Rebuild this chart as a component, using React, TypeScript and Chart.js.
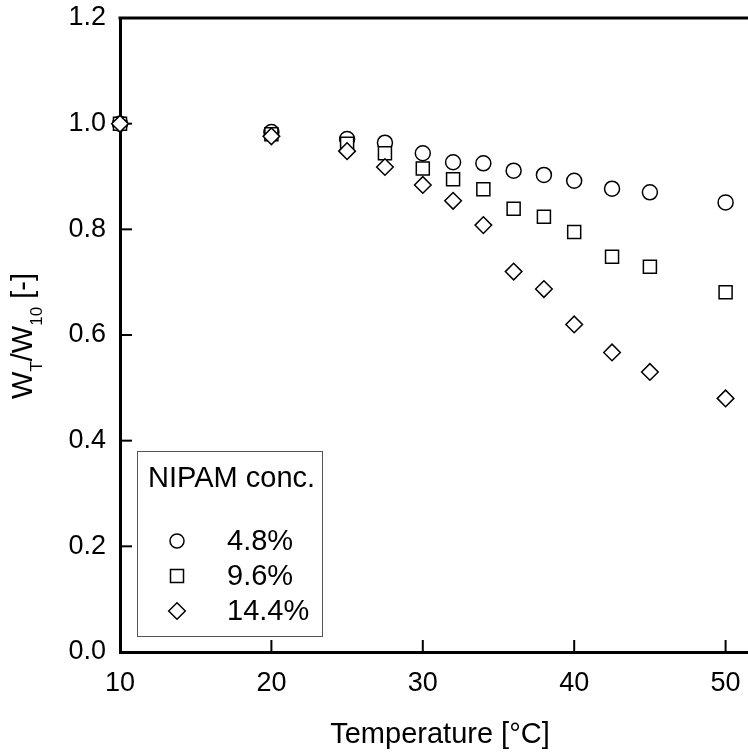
import React, { useEffect, useRef } from "react";
import { Chart, registerables } from "chart.js";

Chart.register(...registerables);

const temperatures = [10, 20, 25, 27.5, 30, 32, 34, 36, 38, 40, 42.5, 45, 50];
const conc48 = [1.0, 0.984, 0.971, 0.964, 0.944, 0.927, 0.925, 0.911, 0.903, 0.892, 0.877, 0.870, 0.851];
const conc96 = [1.0, 0.98, 0.962, 0.944, 0.915, 0.895, 0.876, 0.839, 0.824, 0.795, 0.748, 0.729, 0.681];
const conc144 = [1.0, 0.976, 0.948, 0.918, 0.884, 0.854, 0.808, 0.720, 0.687, 0.620, 0.567, 0.530, 0.480];
const seriesLabels = ["4.8%", "9.6%", "14.4%"];
const legendTitle = "NIPAM conc.";
const xTitle = "Temperature [°C]";
const yTickValues = [0, 0.2, 0.4, 0.6, 0.8, 1.0, 1.2];
const xTickValues = [10, 20, 30, 40, 50];

const FONT = "'Liberation Sans', Arial, Helvetica, sans-serif";

function drawMarker(ctx: CanvasRenderingContext2D, style: string, x: number, y: number) {
  ctx.beginPath();
  if (style === "circle") {
    ctx.arc(x, y, 7, 0, Math.PI * 2);
  } else if (style === "rect") {
    ctx.rect(x - 6.5, y - 6.5, 13, 13);
  } else {
    ctx.moveTo(x, y - 8.3);
    ctx.lineTo(x + 8.3, y);
    ctx.lineTo(x, y + 8.3);
    ctx.lineTo(x - 8.3, y);
    ctx.closePath();
  }
  ctx.fillStyle = "#fff";
  ctx.fill();
  ctx.strokeStyle = "#000";
  ctx.lineWidth = 1.5;
  ctx.stroke();
}

const zeroPad = (scale: any) => {
  scale.paddingTop = 0;
  scale.paddingBottom = 0;
  scale.paddingLeft = 0;
  scale.paddingRight = 0;
};

const customPlugin = {
  id: "customDecor",
  beforeDatasetsDraw(chart: any) {
    const ctx = chart.ctx as CanvasRenderingContext2D;
    const { left, right, top, bottom } = chart.chartArea;
    const xs = chart.scales.x;
    const ys = chart.scales.y;
    ctx.save();
    ctx.strokeStyle = "#000";
    ctx.lineWidth = 3;
    ctx.beginPath();
    ctx.moveTo(left - 1.5, top);
    ctx.lineTo(right, top);
    ctx.stroke();
    ctx.lineWidth = 2;
    xs.ticks.forEach((t: any) => {
      const px = xs.getPixelForValue(t.value);
      ctx.beginPath();
      ctx.moveTo(px, bottom);
      ctx.lineTo(px, bottom - 12);
      ctx.stroke();
    });
    ys.ticks.forEach((t: any) => {
      if (t.value >= 1.2) return;
      const py = ys.getPixelForValue(t.value);
      ctx.beginPath();
      ctx.moveTo(left, py);
      ctx.lineTo(left + 12, py);
      ctx.stroke();
    });
    ctx.restore();
  },
  afterDraw(chart: any) {
    const ctx = chart.ctx as CanvasRenderingContext2D;
    ctx.save();
    ctx.fillStyle = "#000";
    ctx.font = `29px ${FONT}`;
    ctx.textAlign = "center";
    ctx.textBaseline = "alphabetic";
    ctx.fillText(xTitle, 440, 743);

    const parts: [string, boolean][] = [
      ["W", false],
      ["T", true],
      ["/W", false],
      ["10", true],
      [" [-]", false],
    ];
    const mainFont = `29px ${FONT}`;
    const subFont = `17px ${FONT}`;
    let total = 0;
    parts.forEach(([s, sub]) => {
      ctx.font = sub ? subFont : mainFont;
      total += ctx.measureText(s).width;
    });
    ctx.translate(32, 336);
    ctx.rotate(-Math.PI / 2);
    ctx.textAlign = "left";
    let cx = -total / 2;
    parts.forEach(([s, sub]) => {
      ctx.font = sub ? subFont : mainFont;
      ctx.fillText(s, cx, sub ? 10 : 0);
      cx += ctx.measureText(s).width;
    });
    ctx.setTransform(1, 0, 0, 1, 0, 0);

    ctx.fillStyle = "#fff";
    ctx.fillRect(137.5, 451.5, 185, 185);
    ctx.strokeStyle = "#555";
    ctx.lineWidth = 1;
    ctx.strokeRect(137.5, 451.5, 185, 185);
    ctx.fillStyle = "#000";
    ctx.font = `29px ${FONT}`;
    ctx.textAlign = "left";
    ctx.textBaseline = "middle";
    ctx.fillText(legendTitle, 148, 479);
    const styles = ["circle", "rect", "rectRot"];
    const ly = [541, 576, 611];
    chart.data.datasets.forEach((ds: any, i: number) => {
      drawMarker(ctx, styles[i], 177, ly[i]);
      ctx.fillStyle = "#000";
      ctx.font = `29px ${FONT}`;
      ctx.textBaseline = "middle";
      ctx.fillText(ds.label, 227, ly[i] + 1);
    });
    ctx.restore();
  },
};

export default function App() {
  const canvasRef = useRef<HTMLCanvasElement | null>(null);

  useEffect(() => {
    if (!canvasRef.current) return;
    const mk = (vals: number[]) => temperatures.map((t, i) => ({ x: t, y: vals[i] }));
    const common = {
      showLine: false,
      borderColor: "#000",
      backgroundColor: "#fff",
      borderWidth: 1.5,
      clip: false as any,
    };
    const chart = new Chart(canvasRef.current, {
      type: "scatter",
      data: {
        datasets: [
          { ...common, label: seriesLabels[0], data: mk(conc48), pointStyle: "circle", pointRadius: 7.5, order: 2 },
          { ...common, label: seriesLabels[1], data: mk(conc96), pointStyle: "rect", pointRadius: 9.2, order: 1 },
          { ...common, label: seriesLabels[2], data: mk(conc144), pointStyle: "rectRot", pointRadius: 8.3, order: 0 },
        ],
      },
      options: {
        animation: false,
        responsive: false,
        devicePixelRatio: 1,
        layout: { padding: { top: 18, right: 0, left: 0, bottom: 0 } },
        plugins: { legend: { display: false }, tooltip: { enabled: false } },
        scales: {
          x: {
            type: "linear",
            min: 10,
            max: 51.5,
            afterBuildTicks: (scale: any) => {
              scale.ticks = xTickValues.map((v) => ({ value: v }));
            },
            ticks: {
              includeBounds: false,
              color: "#000",
              font: { family: FONT, size: 27 },
              padding: 15,
              maxRotation: 0,
              callback: (v: any) => String(v),
            },
            grid: { drawOnChartArea: false, drawTicks: false },
            border: { display: true, color: "#000", width: 3 },
            afterFit: (scale: any) => {
              scale.height = 103;
              zeroPad(scale);
            },
          },
          y: {
            type: "linear",
            min: 0,
            max: 1.2,
            afterBuildTicks: (scale: any) => {
              scale.ticks = yTickValues.map((v) => ({ value: v }));
            },
            ticks: {
              color: "#000",
              font: { family: FONT, size: 27 },
              padding: 14,
              callback: (v: any) => Number(v).toFixed(1),
            },
            grid: { drawOnChartArea: false, drawTicks: false },
            border: { display: true, color: "#000", width: 3 },
            afterFit: (scale: any) => {
              scale.width = 120;
              zeroPad(scale);
            },
          },
        },
      },
      plugins: [customPlugin],
    });
    return () => chart.destroy();
  }, []);

  return (
    <div style={{ position: "absolute", left: 0, top: 0, width: 748, height: 755, overflow: "hidden", background: "#fff" }}>
      <canvas ref={canvasRef} width={759} height={755} style={{ display: "block" }} />
    </div>
  );
}
